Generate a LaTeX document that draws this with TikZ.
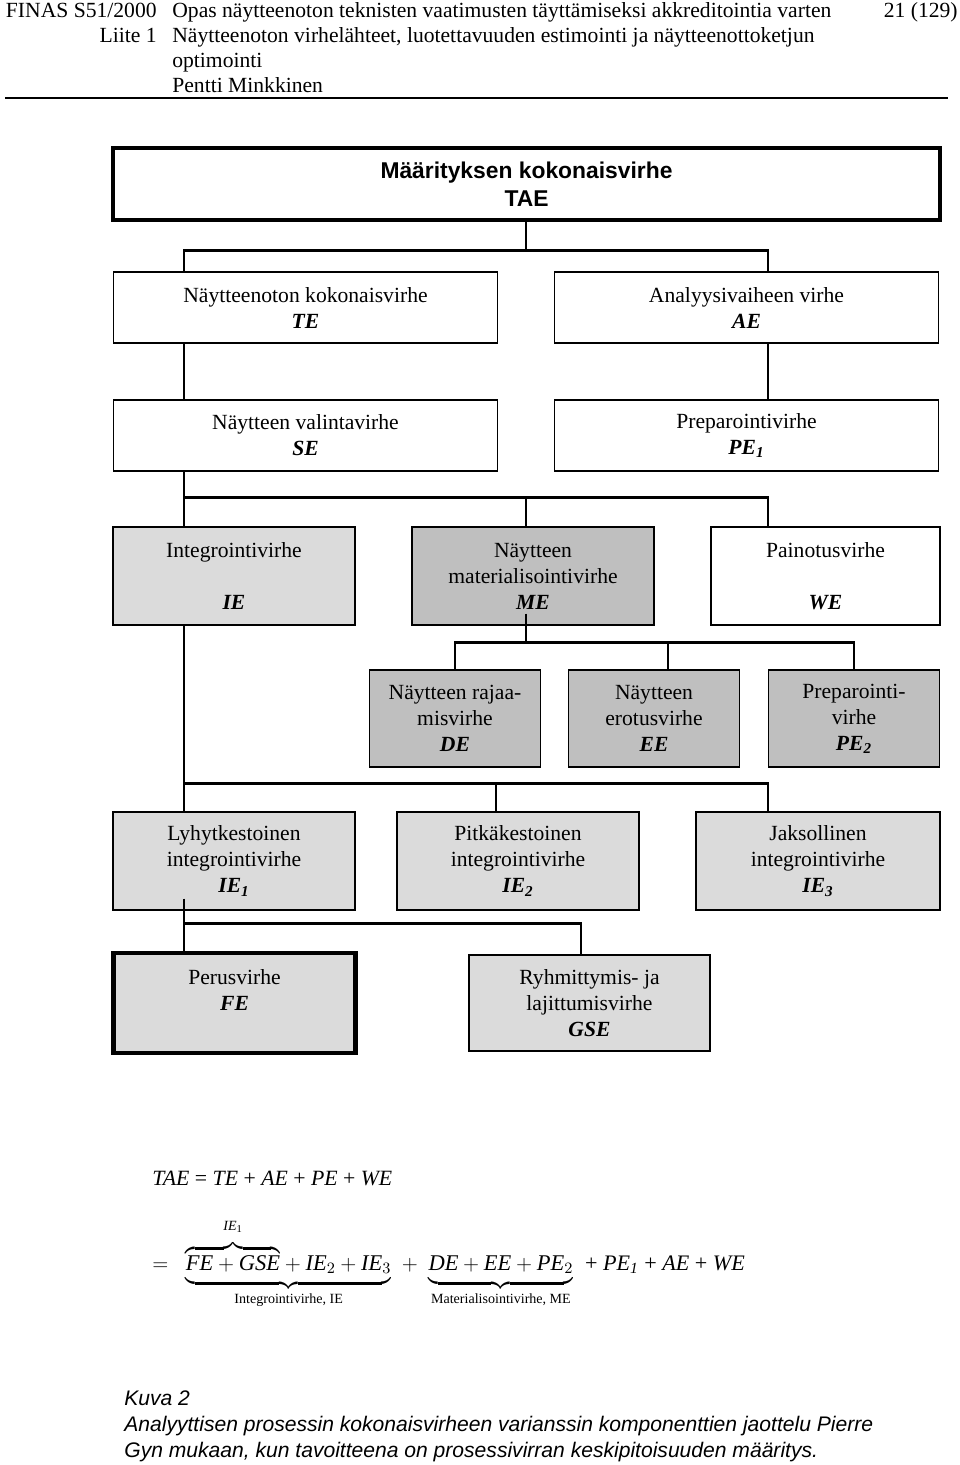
\documentclass[tikz,border=0pt]{standalone}
\usepackage{amsmath}
\usepackage{fontspec}
\setmainfont{Liberation Serif}
\setsansfont{Liberation Sans}
\usetikzlibrary{positioning, calc}

\definecolor{lightgrey}{gray}{0.86}
\definecolor{darkgrey}{gray}{0.75}
\newcommand{\abbr}[1]{\textbf{\textit{#1}}}
\newcommand{\syva}{\rule[-4pt]{0pt}{1pt}}

\begin{document}
\begin{tikzpicture}[x=0.02cm, y=-0.02cm,
  hdr/.style={inner sep=0pt, font=\fontsize{12.3}{14}\selectfont},
  box/.style={draw, line width=0.8pt, align=center, inner sep=0pt, font=\fontsize{12.3}{14.8}\selectfont},
  boxwide/.style={box, minimum width=7.68cm, minimum height=1.42cm},
  boxmid/.style={box, minimum width=4.84cm, minimum height=1.96cm},
  boxnarrow/.style={box, minimum width=3.42cm, minimum height=1.94cm},
  lightbox/.style={fill=lightgrey},
  darkbox/.style={fill=darkgrey},
  link/.style={line width=1.6pt}]
\useasboundingbox (0,0) rectangle (960,1465);

% otsikko
\node[hdr, anchor=base east] (finas) at (157,17) {FINAS S51/2000};
\node[hdr, anchor=base west] (opas) at (172,17) {Opas näytteenoton teknisten vaatimusten täyttämiseksi akkreditointia varten};
\node[hdr, anchor=base east] (sivu) at (958,17) {21 (129)};
\node[hdr, anchor=base east] (liite) at (157,42) {Liite 1};
\node[hdr, anchor=base west] (aihe) at (172,42) {Näytteenoton virhelähteet, luotettavuuden estimointi ja näytteenottoketjun};
\node[hdr, anchor=base west] (aihe2) at (172,67) {optimointi};
\node[hdr, anchor=base west] (tekija) at (172,92) {Pentti Minkkinen};
\draw[line width=1.2pt] (5,98) -- (948,98);

% laatikot
\node[box, line width=2.5pt, minimum width=16.54cm, minimum height=1.44cm, font=\sffamily\bfseries\fontsize{13}{15.9}\selectfont] (TAE) at (526.5,184) {Määrityksen kokonaisvirhe\\TAE};
\node[boxwide] (TE) at (305.5,307.5) {Näytteenoton kokonaisvirhe\\\abbr{TE}};
\node[boxwide] (AE) at (746.5,307.5) {Analyysivaiheen virhe\\\abbr{AE}};
\node[boxwide] (SE) at (305.5,435.5) {Näytteen valintavirhe\\\abbr{SE}};
\node[boxwide] (PEa) at (746.5,435.5) {Preparointivirhe\\\abbr{PE\textsubscript{1}}};

\node[boxmid, lightbox] (IE) at (234,576) {Integrointivirhe\\\mbox{}\\\abbr{IE}};
\node[boxmid, darkbox] (ME) at (533,576) {Näytteen\\materialisointivirhe\\\abbr{ME}};
\node[boxmid, minimum width=4.58cm] (WE) at (825.5,576) {Painotusvirhe\\\mbox{}\\\abbr{WE}};

\node[boxnarrow, darkbox] (DE) at (455,718.5) {Näytteen rajaa-\\misvirhe\\\abbr{DE}};
\node[boxnarrow, darkbox] (EE) at (654,718.5) {Näytteen\\erotusvirhe\\\abbr{EE}};
\node[boxnarrow, darkbox] (PEb) at (854,718.5) {Preparointi-\\virhe\\\abbr{PE\textsubscript{2}}};

\node[boxmid, lightbox] (IEa) at (234,861) {Lyhytkestoinen\\integrointivirhe\\\abbr{IE\textsubscript{1}}};
\node[boxmid, lightbox] (IEb) at (518,861) {Pitkäkestoinen\\integrointivirhe\\\abbr{IE\textsubscript{2}}};
\node[boxmid, lightbox, minimum width=4.88cm] (IEc) at (818,861) {Jaksollinen\\integrointivirhe\\\abbr{IE\textsubscript{3}}};

\node[boxmid, lightbox, line width=2.5pt, minimum height=2cm] (FE) at (234.5,1003) {Perusvirhe\\\abbr{FE}\\\mbox{}};
\node[boxmid, lightbox, minimum width=4.82cm, minimum height=1.92cm] (GSE) at (589.5,1003) {Ryhmittymis- ja\\lajittumisvirhe\\\abbr{GSE}};

% yhdysviivat
\coordinate (colL) at (184,0);
\coordinate (colM) at (526,0);
\coordinate (colR) at (768,0);
\draw[link] (TAE.south -| colM) -- ++(0,28) coordinate (busA);
\draw[link] (TE.north -| colL) |- (busA) -| (AE.north -| colR);
\draw[link] (TE.south -| colL) -- (SE.north -| colL);
\draw[link] (AE.south -| colR) -- (PEa.north -| colR);
\draw[link] (SE.south -| colL) -- (IE.north -| colL);
\draw[link] (IE.north -| colL) ++(0,-28.5) -| (WE.north -| colR);
\draw[link] (ME.north -| colM) -- ++(0,-28.5);
\draw[link] ([yshift=0.24cm]ME.south -| colM) -- ++(0,29) coordinate (busB);
\draw[link] (DE.north) |- (busB) -| (PEb.north);
\draw[link] ([xshift=0.28cm]EE.north) -- ++(0,-28);
\draw[link] (IE.south -| colL) -- (IEa.north -| colL);
\draw[link] (IEa.north -| colL) ++(0,-28) -| (IEc.north -| colR);
\draw[link] ([xshift=-0.44cm]IEb.north) -- ++(0,-28);
\draw[link] ([yshift=0.24cm]IEa.south -| colL) -- (FE.north -| colL);
\draw[link] (FE.north -| colL) ++(0,-27) -| ([xshift=-0.17cm]GSE.north);

% kaavat
\node[hdr, anchor=base west, font=\fontsize{12.4}{14}\selectfont] (kaava) at (152,1185) {\textit{TAE} = \textit{TE} + \textit{AE} + \textit{PE} + \textit{WE}};
\node[hdr, anchor=base west, font=\fontsize{12.8}{15}\selectfont] (hajotelma) at (152,1270) {$=\;\;{\underbrace{{\overbrace{\textit{FE}+\textit{GSE}}^{\raisebox{4pt}{\text{\fontsize{8}{9}\selectfont\textit{IE}\textsubscript{1}}}}}+\textit{IE}_2+\textit{IE}_3\syva}_{\text{\fontsize{8}{9}\selectfont Integrointivirhe, IE}}}\;+\;{\underbrace{\textit{DE}+\textit{EE}+\textit{PE}_2\syva}_{\text{\fontsize{8}{9}\selectfont Materialisointivirhe, ME}}}\;\;\text{\fontsize{12.6}{14}\selectfont + \textit{PE\textsubscript{1}} + \textit{AE} + \textit{WE}}$};

% kuvateksti
\node[hdr, anchor=base west, font=\sffamily\itshape\fontsize{12}{14.8}\selectfont] (kuva) at (124,1405) {Kuva 2};
\node[hdr, anchor=base west, font=\sffamily\itshape\fontsize{12}{14.8}\selectfont] (selite) at (124,1431) {Analyyttisen prosessin kokonaisvirheen varianssin komponenttien jaottelu Pierre};
\node[hdr, anchor=base west, font=\sffamily\itshape\fontsize{12}{14.8}\selectfont] (selite2) at (124,1457) {Gyn mukaan, kun tavoitteena on prosessivirran keskipitoisuuden määritys.};
\end{tikzpicture}
\end{document}
